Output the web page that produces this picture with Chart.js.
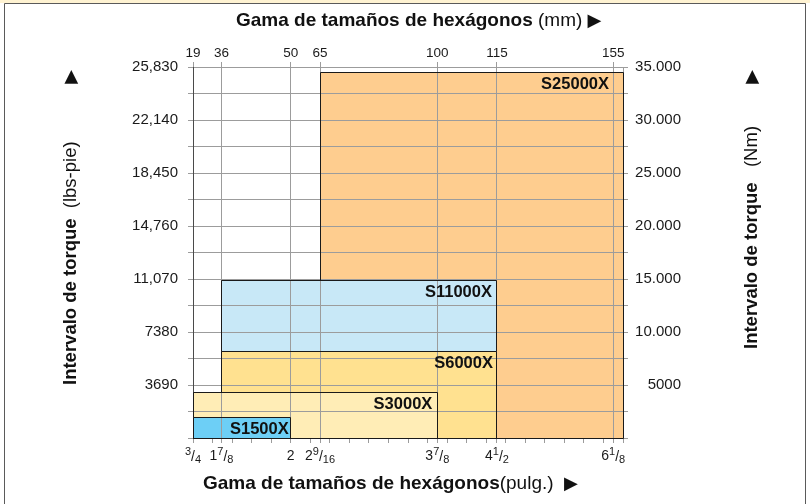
<!DOCTYPE html>
<html>
<head>
<meta charset="utf-8">
<script src="https://cdn.jsdelivr.net/npm/chart.js@4.4.1/dist/chart.umd.min.js"></script>
<style>
html,body{margin:0;padding:0;background:#fff;}
#wrap{width:810px;height:504px;position:relative;}
canvas{display:block;}
</style>
</head>
<body>
<div id="wrap"><canvas id="c" width="810" height="504"></canvas></div>
<script>
// ---- data ----
const models = ['S1500X', 'S3000X', 'S6000X', 'S11000X', 'S25000X'];
// position of each box on the hex-size axis (axis units, one unit per minor tick)
const sizeFrom = [0, 0, 1.46, 1.46, 6.5];
const sizeTo = [5, 12.5, 15.55, 15.55, 22];
// torque range of each box (Nm)
const torqueFrom = [0, 0, 0, 8140, 0];
const torqueTo = [1950, 4250, 8140, 14900, 34460];
// hex size ticks
const sizeTickPos = [0, 1.46, 5, 6.5, 12.5, 15.55, 21.5];
const mmLabels = ['19', '36', '50', '65', '100', '115', '155'];
const inchLabels = ['3/4', '1 7/8', '2', '2 9/16', '3 7/8', '4 1/2', '6 1/8'];
// torque ticks
const nmTickValues = [5000, 10000, 15000, 20000, 25000, 30000, 35000];
const nmLabels = ['5000', '10.000', '15.000', '20.000', '25.000', '30.000', '35.000'];
const lbsLabels = ['3690', '7380', '11,070', '14,760', '18,450', '22,140', '25,830'];

// ---- styles ----
const boxColors = ['#6DCFF6', '#FFEDB6', '#FFE190', '#C8E8F7', '#FECD8F'];
const labelInset = [2, 5, 4, 5, 14];
const FAM = "'Liberation Sans', Arial, Helvetica, 'DejaVu Sans', sans-serif";
const GRID = '#9c9c9c';
Chart.defaults.font.family = FAM;
Chart.defaults.color = '#1a1a1a';

function crisp(p) { return Math.round(p - 0.5) + 0.5; }

function drawRich(ctx, parts, x, y) {
  let cx = x;
  ctx.textBaseline = 'middle';
  ctx.textAlign = 'left';
  parts.forEach(p => {
    ctx.font = p.font;
    ctx.fillText(p.text, cx, y);
    cx += ctx.measureText(p.text).width;
  });
  return cx;
}

// inch label with a stacked-style fraction (superscript numerator / subscript denominator)
function drawInch(ctx, label, cx, base) {
  const m = label.match(/^(?:(\d+)\s+)?(\d+)(?:\/(\d+))?$/);
  let whole = '', num = '', den = '';
  if (label.indexOf('/') < 0) { whole = label; }
  else if (m) { whole = m[1] || ''; num = m[2]; den = m[3]; }
  const FW = '14px ' + FAM, FF = '11px ' + FAM;
  const parts = [];
  if (whole) parts.push({t: whole, f: FW, dy: 0});
  if (num) {
    parts.push({t: num, f: FF, dy: -5});
    parts.push({t: '/', f: FW, dy: 0.5});
    parts.push({t: den, f: FF, dy: 3});
  }
  let w = 0;
  parts.forEach(p => { ctx.font = p.f; p.w = ctx.measureText(p.t).width; w += p.w; });
  let x = cx - w / 2;
  ctx.textAlign = 'left';
  ctx.textBaseline = 'alphabetic';
  parts.forEach(p => { ctx.font = p.f; ctx.fillText(p.t, x, base + p.dy); x += p.w; });
}

const decor = {
  id: 'decor',
  beforeDraw(chart) {
    const ctx = chart.ctx;
    ctx.save();
    ctx.fillStyle = '#ffffff';
    ctx.fillRect(0, 0, chart.width, chart.height);
    ctx.fillStyle = '#FFF3D2';
    ctx.fillRect(0, 0, chart.width, 3);
    ctx.strokeStyle = '#5a5a5a';
    ctx.lineWidth = 1;
    ctx.beginPath();
    ctx.moveTo(4.5, chart.height); ctx.lineTo(4.5, 3.5); ctx.lineTo(805.5, 3.5); ctx.lineTo(805.5, chart.height);
    ctx.stroke();
    ctx.restore();
  },
  afterDraw(chart) {
    const ctx = chart.ctx;
    const xs = chart.scales.x, ys = chart.scales.y;
    const rects = models.map((m, i) => ({
      l: xs.getPixelForValue(sizeFrom[i]), r: xs.getPixelForValue(sizeTo[i]),
      t: ys.getPixelForValue(torqueTo[i]), b: ys.getPixelForValue(torqueFrom[i])
    }));
    // outlines (front boxes hide the edges of boxes behind them)
    for (let i = 0; i < rects.length; i++) {
      ctx.save();
      for (let j = 0; j < i; j++) {
        const R = rects[j];
        ctx.beginPath();
        ctx.rect(0, 0, chart.width, chart.height);
        ctx.rect(R.l, R.t, R.r - R.l, R.b - R.t);
        ctx.clip('evenodd');
      }
      const R = rects[i];
      ctx.strokeStyle = '#1a1a1a';
      ctx.lineWidth = 1;
      ctx.beginPath();
      ctx.rect(crisp(R.l), crisp(R.t), crisp(R.r) - crisp(R.l), crisp(R.b) - crisp(R.t));
      ctx.stroke();
      ctx.restore();
    }
    // box labels
    ctx.save();
    ctx.fillStyle = '#111';
    ctx.font = 'bold 16.5px ' + FAM;
    ctx.textAlign = 'right';
    ctx.textBaseline = 'alphabetic';
    rects.forEach((R, i) => {
      ctx.fillText(models[i], R.r - labelInset[i], R.t + 16.5);
    });
    ctx.restore();

    // bottom inch tick labels
    ctx.save();
    ctx.fillStyle = '#1a1a1a';
    sizeTickPos.forEach((p, i) => drawInch(ctx, inchLabels[i], xs.getPixelForValue(p), xs.top + 22));
    ctx.restore();

    // axis titles
    const B = 'bold 18.5px ' + FAM, N = '18.5px ' + FAM, T = '18px ' + "'DejaVu Sans', sans-serif";
    const B2 = 'bold 19px ' + FAM, N2 = '19px ' + FAM;
    ctx.save();
    ctx.fillStyle = '#111';
    drawRich(ctx, [{text: 'Gama de tamaños de hexágonos', font: B2}, {text: ' (mm) ', font: N2}, {text: '▶', font: T}], 236, 21);
    drawRich(ctx, [{text: 'Gama de tamaños de hexágonos', font: B2}, {text: '(pulg.)  ', font: N2}, {text: '▶', font: T}], 203, 484);
    // left
    ctx.save();
    ctx.translate(71, 385);
    ctx.rotate(-Math.PI / 2);
    drawRich(ctx, [{text: 'Intervalo de torque', font: B}, {text: '  (lbs-pie)', font: N}], 0, 0);
    ctx.font = T; ctx.textAlign = 'right'; ctx.fillText('▶', 385 - 70, 0);
    ctx.restore();
    // right
    ctx.save();
    ctx.translate(752, 349);
    ctx.rotate(-Math.PI / 2);
    drawRich(ctx, [{text: 'Intervalo de torque', font: B}, {text: '   (Nm)', font: N}], 0, 0);
    ctx.font = T; ctx.textAlign = 'right'; ctx.fillText('▶', 349 - 70, 0);
    ctx.restore();
    ctx.restore();
  }
};

const datasets = models.map((m, i) => ({
  label: m,
  data: [{x: sizeFrom[i], y: torqueTo[i]}, {x: sizeTo[i], y: torqueTo[i]}],
  fill: {value: torqueFrom[i]},
  backgroundColor: boxColors[i],
  borderColor: 'rgba(0,0,0,0)',
  borderWidth: 1,
  pointRadius: 0,
  tension: 0,
  xAxisID: 'x',
  yAxisID: 'y'
}));

new Chart(document.getElementById('c'), {
  type: 'line',
  data: {datasets},
  plugins: [decor],
  options: {
    responsive: false,
    animation: false,
    devicePixelRatio: 1,
    layout: {padding: {left: 100, right: 129, top: 37, bottom: 26}},
    plugins: {legend: {display: false}, tooltip: {enabled: false}},
    events: [],
    scales: {
      x: {
        type: 'linear', position: 'bottom', min: 0, max: 22,
        afterBuildTicks: s => {
          const v = new Set();
          for (let i = 0; i <= 22; i++) v.add(i);
          sizeTickPos.forEach(p => v.add(p));
          s.ticks = [...v].sort((a, b) => a - b).map(value => ({value}));
        },
        afterFit: s => { s.height = 40; },
        ticks: {
          autoSkip: false, maxRotation: 0, minRotation: 0, padding: 3,
          font: {size: 14}, color: '#1a1a1a',
          callback: () => ''
        },
        grid: {drawOnChartArea: false, tickLength: 5, color: GRID, z: 1},
        border: {color: '#1a1a1a', z: 1}
      },
      x2: {
        type: 'linear', position: 'top', min: 0, max: 22,
        afterBuildTicks: s => { s.ticks = sizeTickPos.map(value => ({value})); },
        afterFit: s => { s.height = 30; },
        ticks: {
          autoSkip: false, maxRotation: 0, minRotation: 0, padding: 1,
          font: {size: 13.5}, color: '#1a1a1a',
          callback: v => mmLabels[sizeTickPos.indexOf(v)]
        },
        grid: {drawOnChartArea: true, tickLength: 5, color: GRID, z: 1},
        border: {color: GRID, z: 1}
      },
      y: {
        type: 'linear', position: 'left', min: 0, max: 35000,
        afterFit: s => { s.width = 93; },
        ticks: {
          stepSize: 2500, autoSkip: false, padding: 10, font: {size: 15}, color: '#1a1a1a',
          callback: v => { const k = nmTickValues.indexOf(v); return k >= 0 ? lbsLabels[k] : ''; }
        },
        grid: {drawOnChartArea: true, tickLength: 5, color: GRID, z: 1},
        border: {color: '#4a4a4a', z: 1}
      },
      y2: {
        type: 'linear', position: 'right', min: 0, max: 35000,
        afterFit: s => { s.width = 58; },
        ticks: {
          stepSize: 2500, autoSkip: false, padding: 10, crossAlign: 'far', font: {size: 15}, color: '#1a1a1a',
          callback: v => { const k = nmTickValues.indexOf(v); return k >= 0 ? nmLabels[k] : ''; }
        },
        grid: {drawOnChartArea: false, tickLength: 5, color: GRID, z: 1},
        border: {color: GRID, z: 1}
      }
    }
  }
});
</script>
</body>
</html>
